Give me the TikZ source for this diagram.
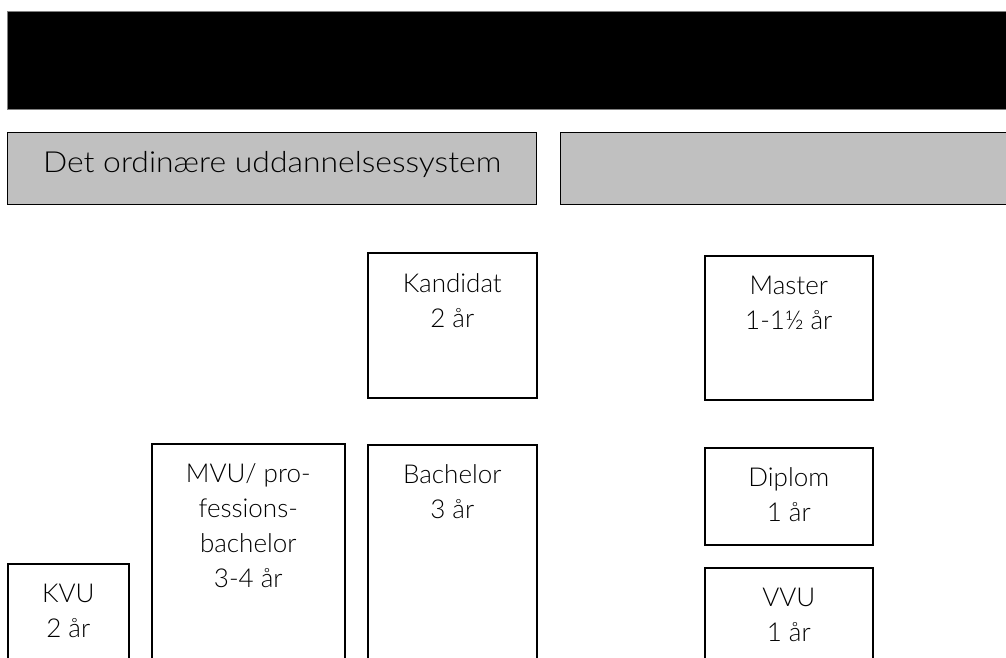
\documentclass[tikz,border=0pt]{standalone}
\usepackage{fontspec}
\setmainfont{Lato Light}
\begin{document}
\begin{tikzpicture}[x=1pt,y=-1pt,
  box/.style={draw=black, line width=1.6pt, anchor=north west, inner sep=0pt},
  hdr/.style={box, fill=headgray, line width=1.3pt},
  lbl/.style={anchor=base, inner sep=0pt, font=\fontsize{26}{35}\selectfont},
]
\definecolor{headgray}{RGB}{192,192,192}
\clip (0,0) rectangle (1006,657);
\fill[white] (0,0) rectangle (1006,657);
% black top band
\node[box, fill=black, draw=gray, line width=1pt, minimum width=1010pt, minimum height=98pt] (band) at (7,11) {};
% header boxes
\node[hdr, minimum width=529pt, minimum height=72pt] (h1) at (7,132) {};
\node[hdr, minimum width=460pt, minimum height=72pt] (h2) at (560,132) {};
\node[lbl, font=\fontsize{29}{35}\selectfont] (h1t) at (h1.north |- 0,172) {\scalebox{1.1}[1]{Det ordinære uddannelsessystem}};
% boxes
\node[box, minimum width=169pt, minimum height=145pt] (kand) at (367,252) {};
\node[box, minimum width=169pt, minimum height=240pt] (bach) at (367,444) {};
\node[box, minimum width=193pt, minimum height=240pt] (mvu) at (151,443) {};
\node[box, minimum width=121pt, minimum height=120pt] (kvu) at (7,563) {};
\node[box, minimum width=168pt, minimum height=144pt] (mast) at (704,255) {};
\node[box, minimum width=168pt, minimum height=97pt] (dipl) at (704,447) {};
\node[box, minimum width=168pt, minimum height=120pt] (vvu) at (704,567) {};
% labels
\node[lbl] (kandt) at (kand.north |- 0,292) {\begin{tabular}[t]{@{}c@{}}Kandidat\\2 år\end{tabular}};
\node[lbl] (bacht) at (bach.north |- 0,483) {\begin{tabular}[t]{@{}c@{}}Bachelor\\3 år\end{tabular}};
\node[lbl] (mvut) at (mvu.north |- 0,482) {\begin{tabular}[t]{@{}c@{}}MVU/ pro-\\fessions-\\bachelor\\3-4 år\end{tabular}};
\node[lbl] (kvut) at (kvu.north |- 0,602) {\begin{tabular}[t]{@{}c@{}}KVU\\2 år\end{tabular}};
\node[lbl] (mastt) at (mast.north |- 0,294) {\begin{tabular}[t]{@{}c@{}}Master\\1-1½ år\end{tabular}};
\node[lbl] (diplt) at (dipl.north |- 0,486) {\begin{tabular}[t]{@{}c@{}}Diplom\\1 år\end{tabular}};
\node[lbl] (vvut) at (vvu.north |- 0,606) {\begin{tabular}[t]{@{}c@{}}VVU\\1 år\end{tabular}};
\end{tikzpicture}
\end{document}
